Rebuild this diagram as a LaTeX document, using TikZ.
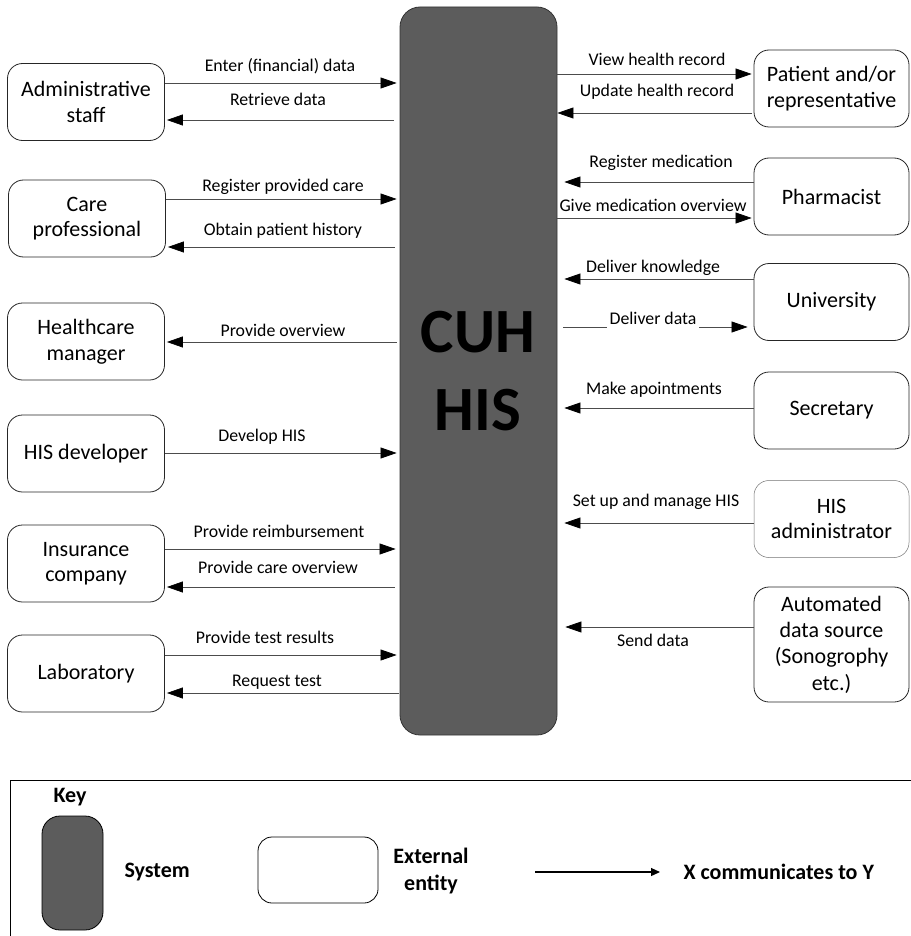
\documentclass[tikz,border=0pt]{standalone}
\usepackage{fontspec}
\setmainfont{Carlito}
\usetikzlibrary{arrows.meta}
\begin{document}
\begin{tikzpicture}[x=1pt,y=-1pt,
  entity/.style={draw=black!85, line width=0.8pt, fill=white, rounded corners=15pt,
    minimum width=157pt, minimum height=77pt, align=center, inner sep=2pt,
    font=\fontsize{22}{25.5}\selectfont},
  system/.style={draw=black!80, line width=0.8pt, fill=black!64, rounded corners=20pt},
  flow/.style={draw=black!70, line width=0.7pt, -{Triangle[length=16pt,width=11pt,color=black]}},
  lbl/.style={font=\fontsize{17.8}{20}\selectfont, inner sep=1pt},
  keytxt/.style={font=\bfseries\fontsize{22}{27}\selectfont, align=center},
  bigtxt/.style={font=\bfseries\fontsize{63}{70}\selectfont, text=black, anchor=base}
]
\useasboundingbox (0,0) rectangle (910,936);

% central system
\node[system, minimum width=157pt, minimum height=728pt] (sys) at (478.5,371) {};
\node[bigtxt] (title1) at (478,352) {CUH};
\node[bigtxt] (title2) at (478,430) {HIS};

% external entities, left column
\node[entity] (adm)  at (86,102)   {Administrative\\staff};
\node[entity] (care) at (87,218.5) {Care\\professional};
\node[entity] (hcm)  at (86,341.5) {Healthcare\\manager};
\node[entity] (dev)  at (86,453.5) {HIS developer};
\node[entity] (ins)  at (86,563.5) {Insurance\\company};
\node[entity] (lab)  at (86,673.5) {Laboratory};

% external entities, right column
\node[entity, minimum width=155pt] (pat)  at (831.5,88.5)  {Patient and/or\\representative};
\node[entity, minimum width=155pt] (phar) at (831.5,196.5) {Pharmacist};
\node[entity, minimum width=155pt] (uni)  at (831.5,302)   {University};
\node[entity, minimum width=155pt] (sec)  at (831.5,410.5) {Secretary};
\node[entity, minimum width=155pt, draw=black!55, line width=0.5pt] (hadm) at (831.5,519) {HIS\\administrator};
\node[entity, minimum width=155pt, minimum height=115pt, font=\fontsize{22}{26.3}\selectfont] (auto) at (831.5,644.5) {Automated\\data source\\(Sonogrophy\\etc.)};

% row heights of the flows
\foreach \n/\y in {a/83,b/120,c/199,d/247,e/342,f/453,g/549,h/587,i/655,j/693,
                   k/74,l/113,m/182,n/218,o/279,p/327,q/408,r/523,s/627}
  \coordinate (row\n) at (0,\y);

% flows on the left
\draw[flow, shorten >=3pt] (adm.east |- rowa) -- (sys.west |- rowa)
  node[lbl] at (280,66) {Enter (financial) data};
\draw[flow, shorten <=6pt, shorten >=2pt] (sys.west |- rowb) -- (adm.east |- rowb)
  node[lbl] at (278,99) {Retrieve data};
\draw[flow, shorten >=3pt] (care.east |- rowc) -- (sys.west |- rowc)
  node[lbl] at (283,187) {Register provided care};
\draw[flow, shorten <=5pt, shorten >=2pt] (sys.west |- rowd) -- (care.east |- rowd)
  node[lbl] at (283,231) {Obtain patient history};
\draw[flow, shorten <=3pt, shorten >=2pt] (sys.west |- rowe) -- (hcm.east |- rowe)
  node[lbl] at (283,330) {Provide overview};
\draw[flow, shorten >=3pt] (dev.east |- rowf) -- (sys.west |- rowf)
  node[lbl] at (262,437) {Develop HIS};
\draw[flow, shorten >=4pt] (ins.east |- rowg) -- (sys.west |- rowg)
  node[lbl] at (279,531) {Provide reimbursement};
\draw[flow, shorten <=5pt, shorten >=2pt] (sys.west |- rowh) -- (ins.east |- rowh)
  node[lbl] at (278,567) {Provide care overview};
\draw[flow, shorten >=3pt] (lab.east |- rowi) -- (sys.west |- rowi)
  node[lbl] at (265,637) {Provide test results};
\draw[flow, shorten <=1pt, shorten >=2pt] (sys.west |- rowj) -- (lab.east |- rowj)
  node[lbl] at (277,682) {Request test};

% flows on the right
\draw[flow, shorten >=2pt] (sys.east |- rowk) -- (pat.west |- rowk)
  node[lbl] at (657,59) {View health record};
\draw[flow, shorten <=2pt] (pat.west |- rowl) -- (sys.east |- rowl)
  node[lbl] at (657,92) {Update health record};
\draw[flow, shorten >=7pt] (phar.west |- rowm) -- (sys.east |- rowm)
  node[lbl] at (661,163) {Register medication};
\draw[flow, shorten >=2pt] (sys.east |- rown) -- (phar.west |- rown)
  node[lbl] at (653,205) {Give medication overview};
\draw[flow, shorten >=7pt] (uni.west |- rowo) -- (sys.east |- rowo)
  node[lbl] at (653,268) {Deliver knowledge};
\draw[flow, shorten <=6pt, shorten >=6pt] (sys.east |- rowp) -- (uni.west |- rowp)
  node[lbl, fill=white, inner xsep=3pt, inner ysep=6pt] at (653,318) {Deliver data};
\draw[flow, shorten >=7pt] (sec.west |- rowq) -- (sys.east |- rowq)
  node[lbl] at (654,390) {Make apointments};
\draw[flow, shorten >=7pt] (hadm.west |- rowr) -- (sys.east |- rowr)
  node[lbl] at (656,502) {Set up and manage HIS};
\draw[flow, shorten >=8pt] (auto.west |- rows) -- (sys.east |- rows)
  node[lbl] at (653,640) {Send data};

% key
\draw[line width=0.9pt] (10,950) -- (10,780) -- (925,780);
\node[keytxt, anchor=west] (keyttl) at (50,797) {Key};
\node[system, minimum width=61pt, minimum height=114pt, rounded corners=18pt, draw=black] (ksys) at (72.5,873) {};
\node[keytxt, anchor=west] (ksyst) at (121,872) {System};
\node[entity, minimum width=120pt, minimum height=66pt, rounded corners=14pt, draw=black] (kent) at (318,870) {};
\node[keytxt] (kentt) at (431,871) {External\\entity};
\coordinate (karrs) at (535,872);
\coordinate (karre) at (660,872);
\draw[line width=1.2pt, -{Triangle[length=9pt,width=8pt]}] (karrs) -- (karre);
\node[keytxt, anchor=west] (karrt) at (680,872) {X communicates to Y};
\end{tikzpicture}
\end{document}
